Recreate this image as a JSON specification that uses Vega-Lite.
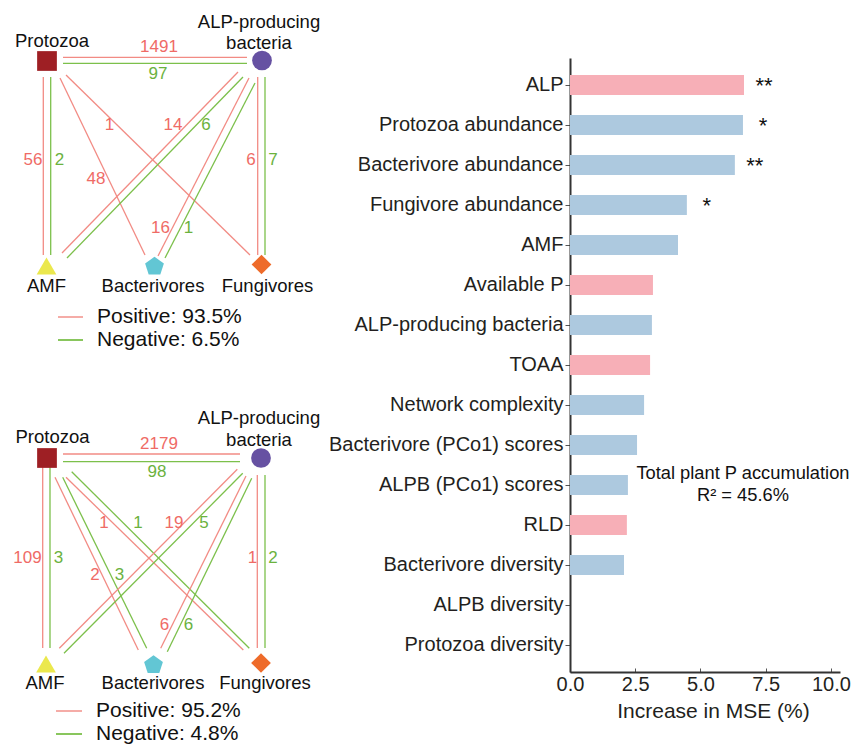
{
  "$schema": "https://vega.github.io/schema/vega-lite/v6.json",
  "padding": 0,
  "background": "white",
  "config": {
    "view": {"stroke": null},
    "font": "Liberation Sans",
    "text": {"font": "Liberation Sans"},
    "axis": {"labelFont": "Liberation Sans", "titleFont": "Liberation Sans"}
  },
  "datasets": {
    "edges": [
      {"panel": "top", "from": "Protozoa", "to": "ALP-producing bacteria", "sign": "Positive", "x": 63, "y": 57.3, "x2": 247, "y2": 57.3},
      {"panel": "top", "from": "Protozoa", "to": "ALP-producing bacteria", "sign": "Negative", "x": 63, "y": 63.3, "x2": 247, "y2": 63.3},
      {"panel": "top", "from": "Protozoa", "to": "AMF", "sign": "Positive", "x": 43.3, "y": 77, "x2": 43.3, "y2": 255},
      {"panel": "top", "from": "Protozoa", "to": "AMF", "sign": "Negative", "x": 50.7, "y": 77, "x2": 50.7, "y2": 255},
      {"panel": "top", "from": "Protozoa", "to": "Bacterivores", "sign": "Positive", "x": 60, "y": 78, "x2": 145, "y2": 255},
      {"panel": "top", "from": "Protozoa", "to": "Fungivores", "sign": "Positive", "x": 66, "y": 75, "x2": 250, "y2": 255},
      {"panel": "top", "from": "ALP-producing bacteria", "to": "AMF", "sign": "Positive", "x": 238, "y": 72, "x2": 62, "y2": 253},
      {"panel": "top", "from": "ALP-producing bacteria", "to": "AMF", "sign": "Negative", "x": 243, "y": 77, "x2": 67, "y2": 258},
      {"panel": "top", "from": "ALP-producing bacteria", "to": "Bacterivores", "sign": "Positive", "x": 249, "y": 78, "x2": 158, "y2": 256},
      {"panel": "top", "from": "ALP-producing bacteria", "to": "Bacterivores", "sign": "Negative", "x": 255, "y": 83, "x2": 165, "y2": 258},
      {"panel": "top", "from": "ALP-producing bacteria", "to": "Fungivores", "sign": "Positive", "x": 257.7, "y": 77, "x2": 257.7, "y2": 255},
      {"panel": "top", "from": "ALP-producing bacteria", "to": "Fungivores", "sign": "Negative", "x": 265, "y": 77, "x2": 265, "y2": 255},
      {"panel": "bottom", "from": "Protozoa", "to": "ALP-producing bacteria", "sign": "Positive", "x": 63, "y": 454, "x2": 240, "y2": 454},
      {"panel": "bottom", "from": "Protozoa", "to": "ALP-producing bacteria", "sign": "Negative", "x": 63, "y": 461.7, "x2": 240, "y2": 461.7},
      {"panel": "bottom", "from": "Protozoa", "to": "AMF", "sign": "Positive", "x": 42.7, "y": 463, "x2": 42.7, "y2": 648},
      {"panel": "bottom", "from": "Protozoa", "to": "AMF", "sign": "Negative", "x": 50, "y": 463, "x2": 50, "y2": 648},
      {"panel": "bottom", "from": "Protozoa", "to": "Bacterivores", "sign": "Positive", "x": 55, "y": 477.3, "x2": 138.3, "y2": 650},
      {"panel": "bottom", "from": "Protozoa", "to": "Bacterivores", "sign": "Negative", "x": 62.7, "y": 477.3, "x2": 146.7, "y2": 648.3},
      {"panel": "bottom", "from": "Protozoa", "to": "Fungivores", "sign": "Positive", "x": 66, "y": 477.3, "x2": 243.3, "y2": 650},
      {"panel": "bottom", "from": "Protozoa", "to": "Fungivores", "sign": "Negative", "x": 71.7, "y": 471.7, "x2": 249.3, "y2": 648.3},
      {"panel": "bottom", "from": "ALP-producing bacteria", "to": "AMF", "sign": "Positive", "x": 237.3, "y": 469.3, "x2": 59.3, "y2": 648.3},
      {"panel": "bottom", "from": "ALP-producing bacteria", "to": "AMF", "sign": "Negative", "x": 242.7, "y": 473.3, "x2": 64, "y2": 653.3},
      {"panel": "bottom", "from": "ALP-producing bacteria", "to": "Bacterivores", "sign": "Positive", "x": 246, "y": 476, "x2": 160.7, "y2": 648.3},
      {"panel": "bottom", "from": "ALP-producing bacteria", "to": "Bacterivores", "sign": "Negative", "x": 251.7, "y": 478.3, "x2": 167.3, "y2": 651.7},
      {"panel": "bottom", "from": "ALP-producing bacteria", "to": "Fungivores", "sign": "Positive", "x": 257.3, "y": 475, "x2": 257.3, "y2": 648},
      {"panel": "bottom", "from": "ALP-producing bacteria", "to": "Fungivores", "sign": "Negative", "x": 265, "y": 475, "x2": 265, "y2": 648}
    ],
    "edgeLabels": [
      {"panel": "top", "sign": "Positive", "count": "1491", "x": 159, "y": 46.5},
      {"panel": "top", "sign": "Negative", "count": "97", "x": 158, "y": 73.5},
      {"panel": "top", "sign": "Positive", "count": "56", "x": 33, "y": 160},
      {"panel": "top", "sign": "Negative", "count": "2", "x": 59.5, "y": 160},
      {"panel": "top", "sign": "Positive", "count": "1", "x": 109.5, "y": 125},
      {"panel": "top", "sign": "Positive", "count": "48", "x": 96, "y": 179},
      {"panel": "top", "sign": "Positive", "count": "14", "x": 173, "y": 125},
      {"panel": "top", "sign": "Negative", "count": "6", "x": 206, "y": 125},
      {"panel": "top", "sign": "Positive", "count": "16", "x": 160.5, "y": 228},
      {"panel": "top", "sign": "Negative", "count": "1", "x": 188.5, "y": 228},
      {"panel": "top", "sign": "Positive", "count": "6", "x": 251, "y": 160},
      {"panel": "top", "sign": "Negative", "count": "7", "x": 273, "y": 160},
      {"panel": "bottom", "sign": "Positive", "count": "2179", "x": 159, "y": 444},
      {"panel": "bottom", "sign": "Negative", "count": "98", "x": 157, "y": 472},
      {"panel": "bottom", "sign": "Positive", "count": "109", "x": 27.5, "y": 558},
      {"panel": "bottom", "sign": "Negative", "count": "3", "x": 58.5, "y": 558},
      {"panel": "bottom", "sign": "Positive", "count": "1", "x": 104, "y": 523},
      {"panel": "bottom", "sign": "Negative", "count": "1", "x": 138, "y": 523},
      {"panel": "bottom", "sign": "Positive", "count": "19", "x": 174, "y": 523},
      {"panel": "bottom", "sign": "Negative", "count": "5", "x": 204, "y": 523},
      {"panel": "bottom", "sign": "Positive", "count": "2", "x": 95, "y": 575},
      {"panel": "bottom", "sign": "Negative", "count": "3", "x": 119.5, "y": 575},
      {"panel": "bottom", "sign": "Positive", "count": "1", "x": 252.5, "y": 558},
      {"panel": "bottom", "sign": "Negative", "count": "2", "x": 273, "y": 558},
      {"panel": "bottom", "sign": "Positive", "count": "6", "x": 164.5, "y": 625},
      {"panel": "bottom", "sign": "Negative", "count": "6", "x": 188.5, "y": 625}
    ],
    "nodes": [
      {"panel": "top", "node": "Protozoa", "x": 47, "y": 61},
      {"panel": "top", "node": "ALP-producing bacteria", "x": 262, "y": 60.5},
      {"panel": "top", "node": "AMF", "x": 46.5, "y": 266},
      {"panel": "top", "node": "Bacterivores", "x": 154.5, "y": 266.5},
      {"panel": "top", "node": "Fungivores", "x": 261.5, "y": 264.5},
      {"panel": "bottom", "node": "Protozoa", "x": 47, "y": 458},
      {"panel": "bottom", "node": "ALP-producing bacteria", "x": 261, "y": 458},
      {"panel": "bottom", "node": "AMF", "x": 46, "y": 664},
      {"panel": "bottom", "node": "Bacterivores", "x": 153.5, "y": 665},
      {"panel": "bottom", "node": "Fungivores", "x": 261, "y": 663}
    ],
    "nodeLabels": [
      {"panel": "top", "label": "Protozoa", "x": 52, "y": 40.5},
      {"panel": "top", "label": ["ALP-producing", "bacteria"], "x": 259, "y": 21.5},
      {"panel": "top", "label": "AMF", "x": 46.5, "y": 285.5},
      {"panel": "top", "label": "Bacterivores", "x": 153, "y": 285.5},
      {"panel": "top", "label": "Fungivores", "x": 267.5, "y": 285.5},
      {"panel": "bottom", "label": "Protozoa", "x": 52.5, "y": 436.5},
      {"panel": "bottom", "label": ["ALP-producing", "bacteria"], "x": 259, "y": 418},
      {"panel": "bottom", "label": "AMF", "x": 45, "y": 683},
      {"panel": "bottom", "label": "Bacterivores", "x": 153, "y": 683},
      {"panel": "bottom", "label": "Fungivores", "x": 265, "y": 683}
    ],
    "legend": [
      {"panel": "top", "sign": "Positive", "label": "Positive: 93.5%", "x": 58, "x2": 83, "y": 317},
      {"panel": "top", "sign": "Negative", "label": "Negative: 6.5%", "x": 58, "x2": 83, "y": 340},
      {"panel": "bottom", "sign": "Positive", "label": "Positive: 95.2%", "x": 56, "x2": 82, "y": 711},
      {"panel": "bottom", "sign": "Negative", "label": "Negative: 4.8%", "x": 56, "x2": 82, "y": 734}
    ],
    "importance": [
      {"variable": "ALP", "mse": 6.67, "group": "Soil and plant", "sig": "**"},
      {"variable": "Protozoa abundance", "mse": 6.63, "group": "Biotic", "sig": "*"},
      {"variable": "Bacterivore abundance", "mse": 6.32, "group": "Biotic", "sig": "**"},
      {"variable": "Fungivore abundance", "mse": 4.48, "group": "Biotic", "sig": "*"},
      {"variable": "AMF", "mse": 4.14, "group": "Biotic", "sig": ""},
      {"variable": "Available P", "mse": 3.18, "group": "Soil and plant", "sig": ""},
      {"variable": "ALP-producing bacteria", "mse": 3.14, "group": "Biotic", "sig": ""},
      {"variable": "TOAA", "mse": 3.07, "group": "Soil and plant", "sig": ""},
      {"variable": "Network complexity", "mse": 2.84, "group": "Biotic", "sig": ""},
      {"variable": "Bacterivore (PCo1) scores", "mse": 2.57, "group": "Biotic", "sig": ""},
      {"variable": "ALPB (PCo1) scores", "mse": 2.22, "group": "Biotic", "sig": ""},
      {"variable": "RLD", "mse": 2.18, "group": "Soil and plant", "sig": ""},
      {"variable": "Bacterivore diversity", "mse": 2.07, "group": "Biotic", "sig": ""},
      {"variable": "ALPB diversity", "mse": 0, "group": "Biotic", "sig": ""},
      {"variable": "Protozoa diversity", "mse": 0, "group": "Biotic", "sig": ""}
    ],
    "note": [
      {"variable": "ALPB (PCo1) scores", "mse": 6.63, "text": ["Total plant P accumulation", "R² = 45.6%"]}
    ]
  },
  "bounds": "flush",
  "spacing": 240,
  "hconcat": [
    {
      "width": 330,
      "height": 746,
      "encoding": {
        "x": {"field": "x", "type": "quantitative", "scale": {"domain": [0, 330], "nice": false, "zero": false}, "axis": null},
        "y": {"field": "y", "type": "quantitative", "scale": {"domain": [0, 746], "nice": false, "zero": false, "reverse": true}, "axis": null}
      },
      "layer": [
        {
          "data": {"name": "edges"},
          "mark": {"type": "rule", "strokeWidth": 1.3},
          "encoding": {
            "x2": {"field": "x2"},
            "y2": {"field": "y2"},
            "color": {"field": "sign", "type": "nominal", "scale": {"domain": ["Positive", "Negative"], "range": ["#F28B84", "#7CC04B"]}, "legend": null}
          }
        },
        {
          "data": {"name": "legend"},
          "mark": {"type": "rule", "strokeWidth": 1.8},
          "encoding": {
            "x2": {"field": "x2"},
            "color": {"field": "sign", "type": "nominal", "scale": {"domain": ["Positive", "Negative"], "range": ["#F4A39E", "#7CC04B"]}, "legend": null}
          }
        },
        {
          "data": {"name": "nodes"},
          "mark": {"type": "point", "filled": true, "opacity": 1, "size": 390, "strokeWidth": 0},
          "encoding": {
            "shape": {"field": "node", "type": "nominal", "scale": {"domain": ["Protozoa", "ALP-producing bacteria", "AMF", "Bacterivores", "Fungivores"], "range": ["square", "circle", "triangle-up", "M0,-1L0.951,-0.309L0.588,0.809L-0.588,0.809L-0.951,-0.309Z", "diamond"]}, "legend": null},
            "color": {"field": "node", "type": "nominal", "scale": {"domain": ["Protozoa", "ALP-producing bacteria", "AMF", "Bacterivores", "Fungivores"], "range": ["#9E1F24", "#6651A2", "#EBE84E", "#62C6D4", "#EE6B2A"]}, "legend": null}
          }
        },
        {
          "data": {"name": "nodeLabels"},
          "mark": {"type": "text", "fontSize": 18.5, "baseline": "middle", "align": "center", "lineHeight": 21.5, "color": "#111111"},
          "encoding": {"text": {"field": "label"}}
        },
        {
          "data": {"name": "edgeLabels"},
          "mark": {"type": "text", "fontSize": 17, "baseline": "middle", "align": "center"},
          "encoding": {
            "text": {"field": "count"},
            "color": {"field": "sign", "type": "nominal", "scale": {"domain": ["Positive", "Negative"], "range": ["#EF6B66", "#6BB23E"]}, "legend": null}
          }
        },
        {
          "data": {"name": "legend"},
          "mark": {"type": "text", "fontSize": 21, "baseline": "middle", "align": "left", "dx": 14, "color": "#111111"},
          "encoding": {
            "x": {"field": "x2", "type": "quantitative"},
            "text": {"field": "label"}
          }
        }
      ],
      "resolve": {"scale": {"color": "independent", "shape": "independent"}}
    },
    {
      "bounds": "flush",
      "spacing": 0,
      "vconcat": [
        {
          "width": 270,
          "height": 58,
          "data": {"values": []},
          "mark": {"type": "point", "opacity": 0},
          "encoding": {}
        },
        {
          "width": 270,
          "height": 614,
          "encoding": {
            "y": {
              "field": "variable", "type": "nominal",
              "sort": ["ALP", "Protozoa abundance", "Bacterivore abundance", "Fungivore abundance", "AMF", "Available P", "ALP-producing bacteria", "TOAA", "Network complexity", "Bacterivore (PCo1) scores", "ALPB (PCo1) scores", "RLD", "Bacterivore diversity", "ALPB diversity", "Protozoa diversity"],
              "scale": {"paddingInner": 0.5, "paddingOuter": 0.425},
              "axis": {"title": null, "labelFontSize": 20, "labelColor": "#231F20", "labelPadding": 2, "tickSize": 5, "tickColor": "#555555", "domainColor": "#333333", "domainWidth": 2, "labelLimit": 400}
            },
            "x": {
              "field": "mse", "type": "quantitative",
              "scale": {"domain": [0, 10.35], "nice": false, "zero": true},
              "axis": {"values": [0, 2.5, 5, 7.5, 10], "format": ".1f", "title": "Increase in MSE (%)", "titleFontSize": 21, "titleFontWeight": "normal", "titleColor": "#231F20", "titlePadding": 6, "titleX": 143, "labelFontSize": 20, "labelColor": "#231F20", "labelFlush": false, "labelOverlap": false, "tickSize": -4, "labelPadding": 6, "tickColor": "#555555", "domainColor": "#333333", "domainWidth": 2, "grid": false}
            }
          },
          "layer": [
            {
              "data": {"name": "importance"},
              "mark": {"type": "bar"},
              "encoding": {
                "color": {"field": "group", "type": "nominal", "scale": {"domain": ["Soil and plant", "Biotic"], "range": ["#F7AFB7", "#ADC9DF"]}, "legend": null}
              }
            },
            {
              "data": {"name": "importance"},
              "mark": {"type": "text", "dx": 20, "dy": 8, "baseline": "alphabetic", "align": "center", "fontSize": 22, "color": "#111111"},
              "encoding": {"text": {"field": "sig"}}
            },
            {
              "data": {"name": "note"},
              "mark": {"type": "text", "fontSize": 18.3, "lineHeight": 22, "dy": -11, "baseline": "middle", "align": "center", "color": "#111111"},
              "encoding": {"text": {"field": "text"}}
            }
          ]
        }
      ]
    }
  ]
}
